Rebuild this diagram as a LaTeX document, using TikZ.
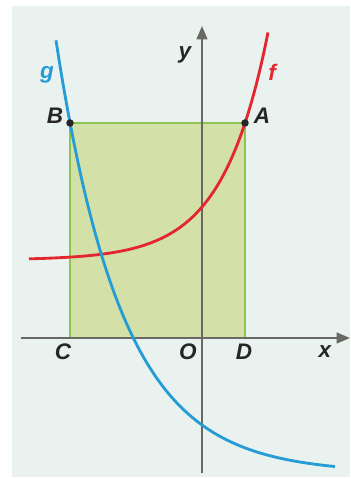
\documentclass[tikz,border=0pt]{standalone}
\usepackage{fontspec}
\setsansfont{Liberation Sans}
\usepackage{tikz}
\usetikzlibrary{arrows.meta,positioning,calc}
\definecolor{PanelBg}  {RGB}{233, 242, 239}
\definecolor{AreaFill} {RGB}{211, 224, 168}
\definecolor{AreaLine} {RGB}{141, 196,  82}
\definecolor{CurveF}   {RGB}{228,  38,  48}
\definecolor{CurveG}   {RGB}{ 38, 156, 214}
\definecolor{AxisGray} {RGB}{105, 105, 100}
\tikzset{
  axisline/.style={draw=AxisGray, line width=1.1pt,
                   -{Triangle[length=8pt, width=6.5pt]}},
  curve/.style={line width=1.7pt, smooth, samples=80},
  ptlabel/.style={font=\sffamily\bfseries\itshape\fontsize{13.5}{15}\selectfont,
                  text=black!85},
  ptdot/.style={circle, fill=black!85, inner sep=0pt, minimum size=4.5pt}
}

\begin{document}
\begin{tikzpicture}[x=0.6pt, y=0.6pt]
      \useasboundingbox (-202,-140) rectangle (148,338);
      \fill[PanelBg] (-190,-139) rectangle (148,332);
      % points of the rectangle
      \coordinate (C) at (-132,0);
      \coordinate (D) at (43,0);
      \coordinate (B) at (-132,215);
      \coordinate (A) at (43,215);
      \filldraw[fill=AreaFill, draw=AreaLine, line width=1.3pt] (C) rectangle (A);
      % axes
      \coordinate (xstart) at (-181,0);
      \coordinate (xend)   at (148,0);
      \coordinate (ystart) at (0,-135);
      \coordinate (yend)   at (0,312);
      \draw[axisline] (xstart) -- (xend);
      \draw[axisline] (ystart) -- (yend);
      % curves f and g
      \draw[curve, CurveF, domain=-173:66]
        plot (\x, {78 + 53*exp(\x/45.3)});
      \draw[curve, CurveG, domain=-146:133]
        plot (\x, {-135 + 48*exp(-\x/66.4)});
      % points and labels
      \node[ptdot] (dotA) at (A) {};
      \node[ptdot] (dotB) at (B) {};
      \node[ptlabel] (labA) at (60,222) {A};
      \node[ptlabel] (labB) at (-147,222) {B};
      \node[ptlabel] (labC) at (-139,-14) {C};
      \node[ptlabel] (labO) at (-14,-14) {O};
      \node[ptlabel] (labD) at (42,-14) {D};
      \node[ptlabel] (labx) at (123,-14) {x};
      \node[ptlabel] (laby) at (-17,283) {y};
      \node[ptlabel, text=CurveG] (labg) at (-155,263) {g};
      \node[ptlabel, text=CurveF] (labf) at (70,266) {f};
    \end{tikzpicture}
\end{document}
